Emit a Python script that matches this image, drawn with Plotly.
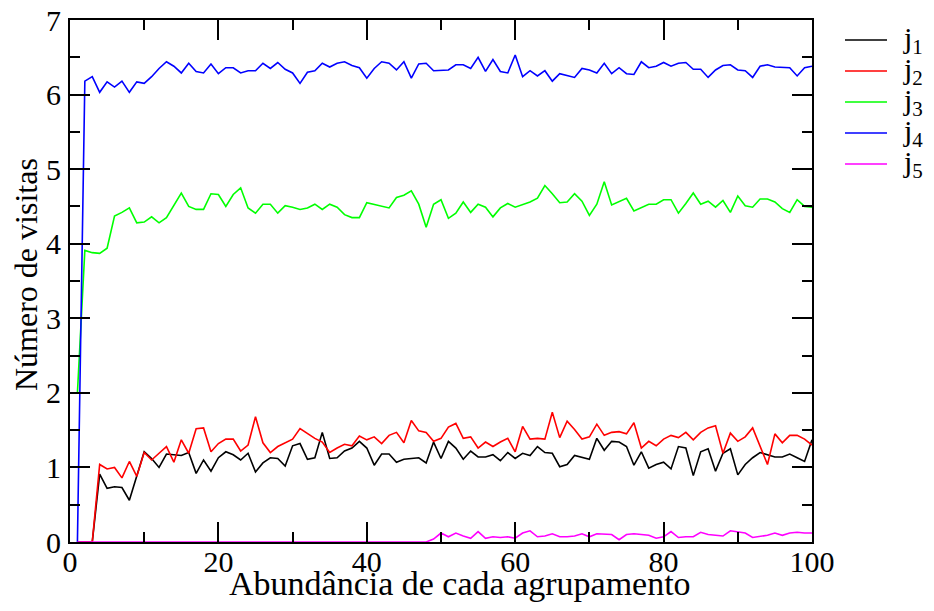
import plotly.graph_objects as go

x = list(range(1, 101))

j1 = [0, 0, 0, 0.91, 0.72, 0.74, 0.73, 0.56, 0.88, 1.21,
      1.12, 1.00, 1.18, 1.17, 1.16, 1.20, 0.92, 1.10, 0.95, 1.13,
      1.21, 1.17, 1.10, 1.19, 0.94, 1.06, 1.13, 1.12, 1.02, 1.29,
      1.32, 1.11, 1.13, 1.47, 1.12, 1.13, 1.22, 1.26, 1.35, 1.26,
      1.03, 1.18, 1.18, 1.07, 1.11, 1.12, 1.13, 1.06, 1.34, 1.12,
      1.35, 1.26, 1.11, 1.22, 1.14, 1.14, 1.17, 1.09, 1.20, 1.12,
      1.19, 1.16, 1.28, 1.20, 1.19, 1.01, 1.04, 1.16, 1.14, 1.11,
      1.39, 1.23, 1.35, 1.34, 1.28, 1.03, 1.21, 0.99, 1.04, 1.07,
      0.98, 1.28, 1.26, 0.89, 1.21, 1.25, 0.95, 1.19, 1.25, 0.90,
      1.04, 1.13, 1.20, 1.17, 1.14, 1.14, 1.18, 1.13, 1.08, 1.37]

j2 = [0, 0, 0, 1.04, 0.98, 1.00, 0.86, 1.08, 0.88, 1.20,
      1.10, 1.19, 1.28, 1.07, 1.37, 1.19, 1.52, 1.53, 1.21, 1.32,
      1.38, 1.38, 1.22, 1.30, 1.68, 1.33, 1.20, 1.28, 1.33, 1.38,
      1.52, 1.45, 1.39, 1.34, 1.20, 1.26, 1.31, 1.29, 1.42, 1.37,
      1.41, 1.32, 1.43, 1.47, 1.33, 1.63, 1.49, 1.47, 1.35, 1.39,
      1.54, 1.59, 1.39, 1.41, 1.26, 1.34, 1.28, 1.34, 1.39, 1.21,
      1.55, 1.38, 1.39, 1.38, 1.74, 1.40, 1.62, 1.51, 1.38, 1.41,
      1.58, 1.43, 1.47, 1.48, 1.45, 1.60, 1.26, 1.35, 1.29, 1.38,
      1.43, 1.40, 1.47, 1.37, 1.47, 1.53, 1.56, 1.19, 1.46, 1.35,
      1.41, 1.53, 1.29, 1.04, 1.45, 1.33, 1.43, 1.43, 1.38, 1.30]

j3 = [2.00, 3.91, 3.88, 3.87, 3.94, 4.37, 4.42, 4.48, 4.28, 4.29,
      4.36, 4.28, 4.35, 4.52, 4.68, 4.50, 4.46, 4.46, 4.67, 4.66,
      4.50, 4.66, 4.75, 4.48, 4.41, 4.53, 4.53, 4.41, 4.51, 4.49,
      4.46, 4.48, 4.53, 4.46, 4.53, 4.49, 4.39, 4.35, 4.35, 4.55,
      4.53, 4.50, 4.48, 4.62, 4.65, 4.71, 4.53, 4.22, 4.53, 4.59,
      4.34, 4.41, 4.56, 4.42, 4.53, 4.49, 4.36, 4.48, 4.54, 4.49,
      4.52, 4.56, 4.61, 4.78, 4.67, 4.55, 4.56, 4.67, 4.57, 4.38,
      4.53, 4.83, 4.52, 4.57, 4.61, 4.44, 4.49, 4.53, 4.53, 4.59,
      4.59, 4.41, 4.54, 4.68, 4.53, 4.57, 4.49, 4.58, 4.42, 4.64,
      4.51, 4.49, 4.60, 4.60, 4.56, 4.47, 4.42, 4.59, 4.50, 4.49]

j4 = [0, 6.18, 6.24, 6.03, 6.17, 6.10, 6.18, 6.03, 6.17, 6.15,
      6.24, 6.35, 6.44, 6.38, 6.29, 6.42, 6.31, 6.29, 6.41, 6.28,
      6.36, 6.36, 6.29, 6.32, 6.32, 6.42, 6.35, 6.43, 6.34, 6.29,
      6.15, 6.30, 6.32, 6.42, 6.37, 6.42, 6.44, 6.39, 6.36, 6.22,
      6.35, 6.44, 6.42, 6.33, 6.44, 6.22, 6.41, 6.42, 6.32, 6.33,
      6.33, 6.40, 6.40, 6.35, 6.50, 6.31, 6.47, 6.31, 6.29, 6.53,
      6.24, 6.32, 6.25, 6.32, 6.18, 6.28, 6.25, 6.23, 6.35, 6.33,
      6.29, 6.42, 6.28, 6.36, 6.28, 6.27, 6.44, 6.36, 6.38, 6.43,
      6.38, 6.42, 6.43, 6.34, 6.34, 6.23, 6.33, 6.39, 6.40, 6.33,
      6.32, 6.23, 6.38, 6.40, 6.37, 6.36, 6.36, 6.25, 6.36, 6.38]

j5 = [0] * 48 + [
      0.04, 0.12,
      0.07, 0.12, 0.08, 0.05, 0.14, 0.05, 0.07, 0.06, 0.07, 0.05,
      0.12, 0.15, 0.07, 0.08, 0.11, 0.07, 0.07, 0.08, 0.11, 0.07,
      0.11, 0.10, 0.10, 0.03, 0.10, 0.11, 0.10, 0.09, 0.05, 0.07,
      0.14, 0.06, 0.07, 0.07, 0.13, 0.10, 0.09, 0.08, 0.15, 0.13,
      0.12, 0.06, 0.07, 0.09, 0.12, 0.09, 0.12, 0.13, 0.12, 0.12]

names = ["j<sub>1</sub>", "j<sub>2</sub>", "j<sub>3</sub>", "j<sub>4</sub>", "j<sub>5</sub>"]
colors = ["#000000", "#ff0000", "#00ff00", "#0000ff", "#ff00ff"]
series = [j1, j2, j3, j4, j5]

x_title = "Abundância de cada agrupamento"
y_title = "Número de visitas"

FONT = "Liberation Serif"

# figure sized to fit inside the page's default 8px body margin
W, H = 918, 595
ML, MR, MT, MB = 62, 114, 12, 61
PW, PH = W - ML - MR, H - MT - MB


def px_x(p):
    return (p - ML) / PW


def px_y(p):
    return (H - MB - p) / PH


fig = go.Figure()
for nm, col, ys in zip(names, colors, series):
    fig.add_trace(go.Scatter(x=x, y=ys, mode="lines", name=nm,
                             line=dict(color=col, width=1.6), showlegend=False))

axis_common = dict(
    showgrid=False, zeroline=False, showline=True, linecolor="black",
    linewidth=2, mirror="ticks", ticks="inside", ticklen=20, tickwidth=2,
    tickcolor="black", layer="above traces", automargin=False,
    ticklabeloverflow="allow",
    tickfont=dict(family=FONT, size=30, color="black"),
)

fig.update_xaxes(range=[0, 100], dtick=20, tick0=0, ticklabelstandoff=-8,
                 minor=dict(dtick=10, ticks="inside", ticklen=10, tickwidth=2, tickcolor="black"),
                 **axis_common)
fig.update_yaxes(range=[0, 7], dtick=1, tick0=0, ticklabelstandoff=1,
                 minor=dict(dtick=0.5, ticks="inside", ticklen=10, tickwidth=2, tickcolor="black"),
                 **axis_common)

shapes = []
annotations = []

# axis titles
annotations.append(dict(xref="paper", yref="paper", x=px_x(452), y=px_y(575),
                        xanchor="center", yanchor="middle", showarrow=False,
                        text=x_title, font=dict(family=FONT, size=34, color="black")))
annotations.append(dict(xref="paper", yref="paper", x=px_x(18), y=px_y(267),
                        xanchor="center", yanchor="middle", showarrow=False,
                        textangle=-90,
                        text=y_title, font=dict(family=FONT, size=32, color="black")))

# legend drawn as short line samples + labels beside the plot (page px - 8)
leg_y_px = [32, 63, 94, 125, 156]
for nm, col, py in zip(names, colors, leg_y_px):
    yp = px_y(py)
    shapes.append(dict(type="line", xref="paper", yref="paper",
                       x0=px_x(837), x1=px_x(879), y0=yp, y1=yp,
                       line=dict(color=col, width=1.6)))
    annotations.append(dict(xref="paper", yref="paper", x=px_x(893), y=yp,
                            xanchor="left", yanchor="middle", showarrow=False,
                            text=nm, font=dict(family=FONT, size=30, color="black")))

fig.update_layout(
    width=W, height=H,
    margin=dict(l=ML, r=MR, t=MT, b=MB),
    paper_bgcolor="white", plot_bgcolor="white",
    showlegend=False,
    shapes=shapes, annotations=annotations,
)

fig.write_html("out.html")
